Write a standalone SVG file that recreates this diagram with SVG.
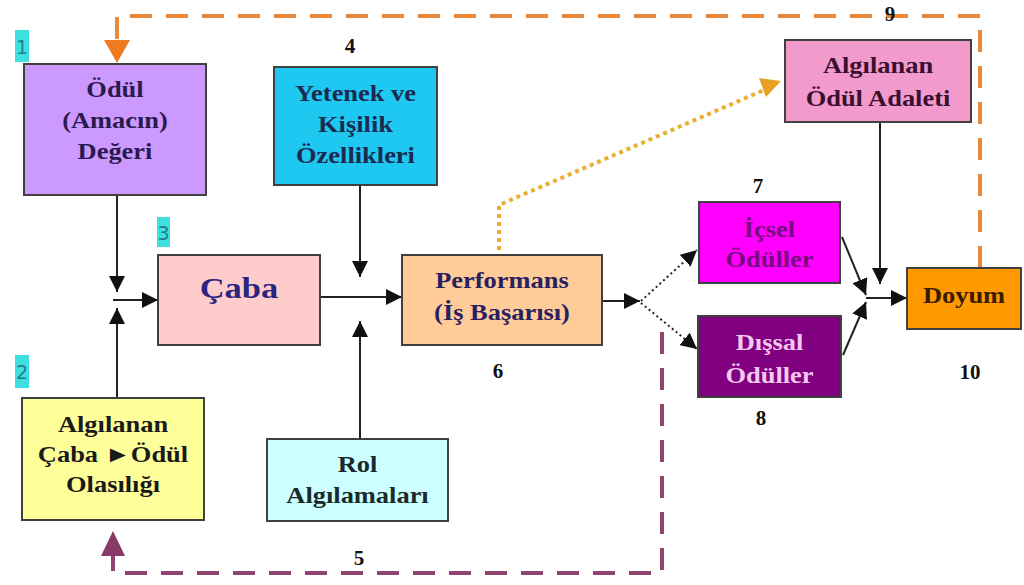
<svg xmlns="http://www.w3.org/2000/svg" width="1024" height="585" viewBox="0 0 1024 585">
<style>
.box{stroke:#404040;stroke-width:2}
.t{font-family:"Liberation Serif","Times New Roman",serif;font-weight:bold;font-size:23px;text-anchor:middle}
.num{font-family:"Liberation Serif","Times New Roman",serif;font-weight:bold;font-size:21px;fill:#111;text-anchor:middle}
.tag{font-family:"DejaVu Sans","Liberation Sans",sans-serif;font-size:19px;fill:#1f7f8f;text-anchor:middle}
.ln{stroke:#222;stroke-width:2;fill:none}
.dot{stroke:#222;stroke-width:2;stroke-dasharray:2 3;fill:none}
</style>
<defs>
<marker id="ah" viewBox="0 0 10 10" refX="10" refY="5" markerWidth="8" markerHeight="8" markerUnits="userSpaceOnUse" orient="auto">
<path d="M0,0 L10,5 L0,10 z" fill="#111"/>
</marker>
<marker id="ahb" viewBox="0 0 10 10" refX="10" refY="5" markerWidth="16" markerHeight="16" markerUnits="userSpaceOnUse" orient="auto">
<path d="M0,0 L10,5 L0,10 z" fill="#111"/>
</marker>
</defs>
<rect width="1024" height="585" fill="#ffffff"/>

<g id="connectors">
<!-- orange dashed feedback 9 -->
<path d="M980 268 V16 H117 V40" fill="none" stroke="#E8883A" stroke-width="4" stroke-dasharray="22 14"/>
<polygon points="104,40 130,40 117,63" fill="#F07A20"/>
<!-- purple dashed feedback 5 -->
<path d="M662 332 V573 H113 V556" fill="none" stroke="#904470" stroke-width="4" stroke-dasharray="22 14"/>
<polygon points="101,556 125,556 113,531" fill="#8A3A68"/>
<!-- orange dotted performans -> adalet -->
<path d="M499 250 V205 L764 90" fill="none" stroke="#E8B030" stroke-width="4" stroke-dasharray="4 4"/>
<polygon points="759,78 781,81 766,97" fill="#E8A020"/>
<!-- black solid -->
<path class="ln" d="M117 196 V292" marker-end="url(#ahb)"/>
<path class="ln" d="M117 398 V308" marker-end="url(#ahb)"/>
<path class="ln" d="M113 300 H158" marker-end="url(#ahb)"/>
<path class="ln" d="M360 185 V277" marker-end="url(#ahb)"/>
<path class="ln" d="M360 439 V321" marker-end="url(#ahb)"/>
<path class="ln" d="M320 297 H402" marker-end="url(#ahb)"/>
<path class="ln" d="M602 301 H640" marker-end="url(#ahb)"/>
<path class="dot" d="M641 301 L697 250" marker-end="url(#ahb)"/>
<path class="dot" d="M641 303 L697 349" marker-end="url(#ahb)"/>
<path class="ln" d="M842 237 L866 295" marker-end="url(#ahb)"/>
<path class="ln" d="M843 355 L866 302" marker-end="url(#ahb)"/>
<path class="ln" d="M880 122 V284" marker-end="url(#ahb)"/>
<path class="ln" d="M866 298 H907" marker-end="url(#ahb)"/>
</g>

<g id="n1">
<rect class="box" x="24" y="64" width="182" height="131" fill="#CC99FF"/>
<text class="t" fill="#2A1A50" transform="translate(115,0) scale(1.15,1)"><tspan x="0" y="97">Ödül</tspan><tspan x="0" y="128">(Amacın)</tspan><tspan x="0" y="159">Değeri</tspan></text>
<rect x="15" y="30" width="14" height="32" fill="#3EE0DF"/>
<text class="tag" x="22" y="54">1</text>
</g>

<g id="n2">
<rect class="box" x="22" y="398" width="182" height="122" fill="#FFFF99"/>
<text class="t" fill="#1A1A1A" transform="translate(113,0) scale(1.15,1)"><tspan x="0" y="432">Algılanan</tspan><tspan x="0" y="462">Çaba ►Ödül</tspan><tspan x="0" y="492">Olasılığı</tspan></text>
<rect x="15" y="355" width="14" height="33" fill="#3EE0DF"/>
<text class="tag" x="22" y="379">2</text>
</g>

<g id="n3">
<rect class="box" x="158" y="255" width="162" height="90" fill="#FFCCCC"/>
<text class="t" fill="#2B2580" style="font-size:30px" transform="translate(239,0) scale(1.15,1)"><tspan x="0" y="298">Çaba</tspan></text>
<rect x="157" y="217" width="13" height="30" fill="#3EE0DF"/>
<text class="tag" x="163.5" y="240">3</text>
</g>

<g id="n4">
<rect class="box" x="274" y="67" width="163" height="118" fill="#1EC8F0"/>
<text class="t" fill="#1A2A50" transform="translate(355.5,0) scale(1.15,1)"><tspan x="0" y="101">Yetenek ve</tspan><tspan x="0" y="132">Kişilik</tspan><tspan x="0" y="163">Özellikleri</tspan></text>
<text class="num" x="350" y="53">4</text>
</g>

<g id="n5">
<rect class="box" x="267" y="439" width="181" height="82" fill="#CCFFFF"/>
<text class="t" fill="#1A2A2A" transform="translate(357.5,0) scale(1.15,1)"><tspan x="0" y="472">Rol</tspan><tspan x="0" y="503">Algılamaları</tspan></text>
<text class="num" x="359" y="565">5</text>
</g>

<g id="n6">
<rect class="box" x="402" y="255" width="200" height="90" fill="#FFCC99"/>
<text class="t" fill="#2A2060" transform="translate(502,0) scale(1.15,1)"><tspan x="0" y="288">Performans</tspan><tspan x="0" y="320">(İş Başarısı)</tspan></text>
<text class="num" x="498" y="378">6</text>
</g>

<g id="n7">
<rect class="box" x="699" y="202" width="141" height="81" fill="#FF00FF"/>
<text class="t" fill="#7A0A80" transform="translate(769.5,0) scale(1.15,1)"><tspan x="0" y="237">İçsel</tspan><tspan x="0" y="267">Ödüller</tspan></text>
<text class="num" x="758" y="193">7</text>
</g>

<g id="n8">
<rect class="box" x="698" y="316" width="143" height="81" fill="#800080"/>
<text class="t" fill="#F5C8F0" transform="translate(769.5,0) scale(1.15,1)"><tspan x="0" y="350">Dışsal</tspan><tspan x="0" y="383">Ödüller</tspan></text>
<text class="num" x="761" y="425">8</text>
</g>

<g id="n9">
<rect class="box" x="785" y="40" width="186" height="82" fill="#F29ACB"/>
<text class="t" fill="#3A1030" transform="translate(878,0) scale(1.15,1)"><tspan x="0" y="73">Algılanan</tspan><tspan x="0" y="106">Ödül Adaleti</tspan></text>
<text class="num" x="890" y="21">9</text>
</g>

<g id="n10">
<rect class="box" x="907" y="268" width="114" height="61" fill="#FF9900"/>
<text class="t" fill="#3A1A00" transform="translate(964,0) scale(1.15,1)"><tspan x="0" y="303">Doyum</tspan></text>
<text class="num" x="970" y="379">10</text>
</g>
</svg>
